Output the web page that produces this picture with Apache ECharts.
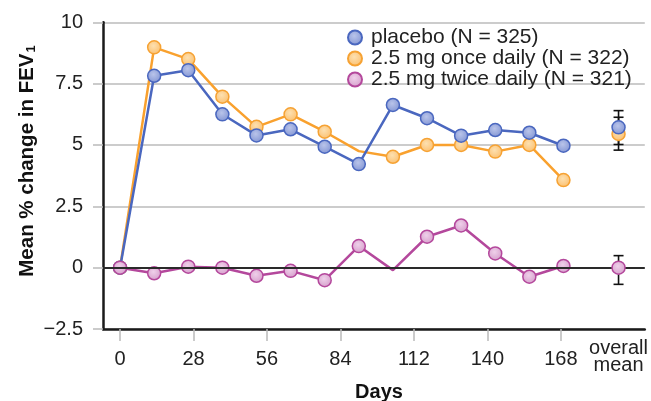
<!DOCTYPE html>
<html>
<head>
<meta charset="utf-8">
<script src="https://cdn.jsdelivr.net/npm/echarts@6/dist/echarts.min.js"></script>
<style>html,body{margin:0;padding:0;background:#fff;}#c{width:651px;height:401px;}</style>
</head>
<body>
<div id="c"></div>
<script>
// ---- data ----
const days = [0, 13, 26, 39, 52, 65, 78, 91, 104, 117, 130, 143, 156, 169];
const placebo = [0, 7.82, 8.05, 6.25, 5.39, 5.64, 4.93, 4.22, 6.63, 6.09, 5.38, 5.61, 5.50, 4.97];
const onceDaily = [0, 8.98, 8.50, 6.97, 5.74, 6.25, 5.54, 4.75, 4.52, 5.00, 5.00, 4.73, 5.00, 3.57];
const twiceDaily = [0, -0.23, 0.04, 0, -0.33, -0.13, -0.51, 0.88, -0.10, 1.26, 1.72, 0.58, -0.37, 0.07];
const onceNoMarker = [7];
const twiceNoMarker = [8];
const overallX = 190;
const overallMean = [5.72, 5.45, 0.0];
const overallLow = [5.02, 4.79, -0.68];
const overallHigh = [6.40, 6.13, 0.49];
const seriesNames = ['placebo (N = 325)', '2.5 mg once daily (N = 322)', '2.5 mg twice daily (N = 321)'];
const dayTicks = [0, 28, 56, 84, 112, 140, 168];
const yTicks = { min: -2.5, max: 10, interval: 2.5 };

const FONT = 'Liberation Sans, Arial, Helvetica, sans-serif';
const styles = [
  { line: '#4a67bf', c0: '#b9c4ea', c1: '#7f92d2', border: '#4a67bf' },
  { line: '#f9a12e', c0: '#fde0b0', c1: '#fbbd6a', border: '#f6a233' },
  { line: '#b4489c', c0: '#efd0ea', c1: '#d49bc9', border: '#b4489c' }
];
function itemStyle(s) {
  return {
    color: { type: 'radial', x: 0.45, y: 0.4, r: 0.65,
      colorStops: [{ offset: 0, color: s.c0 }, { offset: 1, color: s.c1 }] },
    borderColor: s.border, borderWidth: 1.5, opacity: 1
  };
}
function lineData(vals, noMarker) {
  return days.map((d, i) => noMarker.indexOf(i) >= 0 ? { value: [d, vals[i]], symbol: 'none' } : [d, vals[i]]);
}
const allVals = [placebo, onceDaily, twiceDaily];
const noMarkers = [[], onceNoMarker, twiceNoMarker];
const zs = [3, 2, 4];

const series = [];
series.push({
  type: 'custom', z: 1, silent: true,
  data: overallMean.map((m, i) => [overallX, overallLow[i], overallHigh[i]]),
  encode: { x: 0, y: [1, 2] },
  renderItem: function (params, api) {
    const x = api.value(0);
    const pHi = api.coord([x, api.value(2)]);
    const pLo = api.coord([x, api.value(1)]);
    const w = 5;
    const st = { stroke: '#111', lineWidth: 1.6 };
    return { type: 'group', children: [
      { type: 'line', shape: { x1: pHi[0], y1: pHi[1], x2: pLo[0], y2: pLo[1] }, style: st },
      { type: 'line', shape: { x1: pHi[0] - w, y1: pHi[1], x2: pHi[0] + w, y2: pHi[1] }, style: st },
      { type: 'line', shape: { x1: pLo[0] - w, y1: pLo[1], x2: pLo[0] + w, y2: pLo[1] }, style: st }
    ]};
  },
  markLine: {
    silent: true, symbol: 'none', label: { show: false },
    lineStyle: { color: '#2a2a2a', width: 2, type: 'solid' },
    data: [{ yAxis: 0 }]
  }
});
for (let k = 0; k < 3; k++) {
  series.push({
    name: seriesNames[k], type: 'line', z: zs[k],
    data: lineData(allVals[k], noMarkers[k]),
    symbol: 'circle', symbolSize: 13, showAllSymbol: true,
    lineStyle: { color: styles[k].line, width: 2.5 },
    itemStyle: itemStyle(styles[k])
  });
}
for (let k = 0; k < 3; k++) {
  series.push({
    name: seriesNames[k], type: 'scatter', z: zs[k] + 4,
    data: [[overallX, overallMean[k]]],
    symbol: 'circle', symbolSize: 13,
    itemStyle: itemStyle(styles[k])
  });
}
// placebo overall on top of once-daily overall
series[5].z = 6; series[4].z = 8;

const chart = echarts.init(document.getElementById('c'));
chart.setOption({
  animation: false,
  backgroundColor: '#fff',
  textStyle: { fontFamily: FONT },
  grid: { left: 103, right: 6, top: 22.3, bottom: 72 },
  legend: {
    data: seriesNames, orient: 'vertical', left: 342, top: 22,
    itemWidth: 14, itemHeight: 14, itemGap: 0, icon: 'circle',
    textStyle: { fontSize: 21, color: '#222', fontFamily: FONT, lineHeight: 19, padding: [0, 0, 0, 4] },
    selectedMode: false
  },
  xAxis: [{
    type: 'value', min: -6.5, max: 200,
    axisLine: { show: true, onZero: false, lineStyle: { color: '#1a1a1a', width: 2.5 } },
    axisTick: { show: true, customValues: dayTicks, length: 12, lineStyle: { color: '#bbb', width: 1.5 } },
    axisLabel: { customValues: dayTicks, margin: 20, fontSize: 20, color: '#222', fontFamily: FONT },
    splitLine: { show: false }
  }, {
    type: 'value', min: -6.5, max: 200, position: 'bottom',
    axisLine: { show: false, onZero: false }, axisTick: { show: false },
    axisLabel: { customValues: [overallX], margin: 11, fontSize: 20, lineHeight: 17, color: '#222', fontFamily: FONT,
      formatter: function () { return 'overall\nmean'; } },
    splitLine: { show: false }
  }],
  yAxis: {
    type: 'value', min: yTicks.min, max: yTicks.max, interval: yTicks.interval,
    axisLine: { show: true, onZero: false, lineStyle: { color: '#1a1a1a', width: 2.5 } },
    axisTick: { show: true, length: 10, lineStyle: { color: '#bbb', width: 1.5 } },
    axisLabel: { margin: 20, fontSize: 20, color: '#222', fontFamily: FONT,
      formatter: function (v) { return v < 0 ? '\u2212' + Math.abs(v) : String(v); } },
    splitLine: { show: true, lineStyle: { color: '#bbb', width: 1.5 } }
  },
  graphic: [{
    type: 'text', x: 379, y: 392,
    style: { text: 'Days', font: 'bold 20px ' + FONT, fill: '#111', align: 'center', verticalAlign: 'middle' }
  }, {
    type: 'text', x: 26, y: 161, rotation: Math.PI / 2,
    style: {
      text: '{b|Mean % change in FEV}{s|1}', align: 'center', verticalAlign: 'middle', fill: '#111',
      rich: {
        b: { font: 'bold 20.5px ' + FONT, fill: '#111', lineHeight: 24, verticalAlign: 'bottom' },
        s: { font: 'bold 13px ' + FONT, fill: '#111', lineHeight: 20, verticalAlign: 'bottom', padding: [0, 0, 0, 1] }
      }
    }
  }],
  series: series
});
</script>
</body>
</html>
